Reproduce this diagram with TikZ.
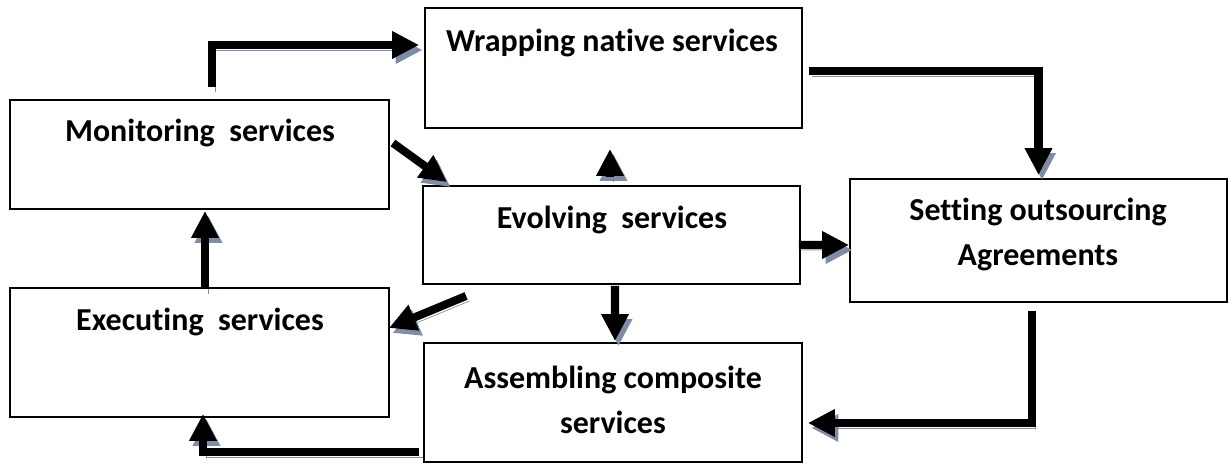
\documentclass[tikz,border=0pt]{standalone}
\usepackage{fontspec}
\setmainfont{Carlito}[Ligatures=NoCommon]
\usetikzlibrary{arrows.meta,calc}
\definecolor{shade}{HTML}{7F8CA5}
\tikzset{
  box/.style 2 args={draw, line width=1.1pt, minimum width=#1, minimum height=#2, inner sep=0pt},
  lbl/.style={font=\bfseries\fontsize{18.2}{25.6}\selectfont, align=center, inner sep=0pt},
  flow/.style={draw=black, line width=4.6pt, -{Triangle[length=0.54cm,width=0.52cm]},
    preaction={draw=shade, transform canvas={shift={(0.07cm,-0.1cm)}}}}
}
\begin{document}
\begin{tikzpicture}[x=0.02cm, y=-0.02cm]
	\useasboundingbox (0,0) rectangle (1232,465);
	% boxes
	\node[box={7.54cm}{2.40cm}] (wrap) at (613.5,68) {};
	\node[box={7.58cm}{2.18cm}] (mon) at (199.5,154.5) {};
	\node[box={7.54cm}{1.96cm}] (evo) at (611.5,235) {};
	\node[box={7.54cm}{2.46cm}] (set) at (1038.5,240.5) {};
	\node[box={7.58cm}{2.58cm}] (exe) at (199.5,352.5) {};
	\node[box={7.56cm}{2.38cm}] (asm) at (613,402.5) {};
	% texts
	\node[lbl] (wrapT) at (612,43) {Wrapping native services};
	\node[lbl] (monT) at (200,133) {Monitoring\ \ services};
	\node[lbl] (evoT) at (612,220) {Evolving\ \ services};
	\node[lbl] (setT) at (1038,234.5) {Setting outsourcing\\Agreements};
	\node[lbl] (exeT) at (200,322) {Executing\ \ services};
	\node[lbl] (asmT) at (613,400) {Assembling composite\\services};
	% arrows
	\draw[flow] ($(mon.north)+(12.5,-12)$) |- ($(wrap.west)+(-5,-23)$);
	\draw[flow] ($(wrap.east)+(6,3)$) -| ($(set.north)+(0,-3)$);
	\draw[flow] ($(mon.east)+(3,-11.5)$) -- ($(evo.north west)+(25,-3)$);
	\draw[flow] ($(evo.north)+(-1.5,-8)$) -- ($(wrap.south)+(-3.5,20)$);
	\draw[flow] ($(evo.east)+(-2,10)$) -- ($(set.west)+(0,4.5)$);
	\draw[flow] ($(evo.south west)+(44,11)$) -- ($(exe.east)+(-1,-24.5)$);
	\draw[flow] ($(evo.south)+(3.5,1)$) -- ($(asm.north)+(2,-1)$);
	\draw[flow] ($(set.south)+(-6.5,8)$) |- ($(asm.east)+(5,20.5)$);
	\draw[flow] ($(asm.west)+(-4,49.5)$) -| ($(exe.south)+(3.5,-4)$);
	\draw[flow] ($(exe.north)+(5.5,2)$) -- ($(mon.south)+(5.5,1)$);
\end{tikzpicture}
\end{document}
